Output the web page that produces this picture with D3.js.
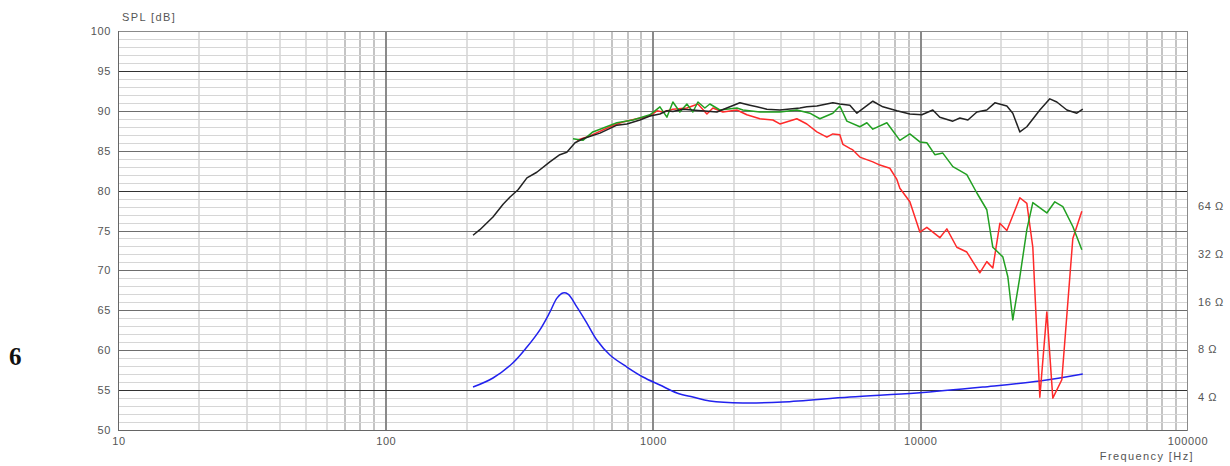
<!DOCTYPE html>
<html>
<head>
<meta charset="utf-8">
<script src="https://cdn.jsdelivr.net/npm/d3@7"></script>
<style>
  body { margin: 0; background: #fff; }
  text { font-family: "Liberation Sans", Arial, sans-serif; fill: #555; }
</style>
</head>
<body>
<svg id="chart" width="1230" height="466"></svg>
<script>
// tick labels
const dbTicks = [50, 55, 60, 65, 70, 75, 80, 85, 90, 95, 100];
const freqTicks = [10, 100, 1000, 10000, 100000];
const ohmTicks = [4, 8, 16, 32, 64];

// SPL curves, [Hz, dB]
const blackSpl = [
  [213, 74.4], [226, 75.1], [253, 76.7], [276, 78.3], [293, 79.2], [314, 80.1],
  [339, 81.6], [369, 82.3], [413, 83.6], [450, 84.5], [478, 84.8], [513, 86.0],
  [549, 86.5], [636, 87.2], [736, 88.2], [802, 88.35], [897, 88.85], [978, 89.35],
  [1066, 89.6], [1132, 90.0], [1192, 89.9], [1299, 90.2], [1741, 89.85], [2123, 91.0],
  [2314, 90.7], [2458, 90.5], [2679, 90.2], [2997, 90.1], [3559, 90.35], [3780, 90.5],
  [4121, 90.6], [4729, 91.0], [5023, 90.85], [5476, 90.7], [5818, 89.7], [6675, 91.2],
  [7278, 90.5], [8210, 90.0], [9183, 89.6], [10180, 89.5], [11190, 90.1], [11890, 89.2],
  [13300, 88.7], [14130, 89.1], [15140, 88.85], [16360, 89.85], [17820, 90.1], [19100, 91.0],
  [21180, 90.6], [22290, 89.7], [23690, 87.35], [25160, 88.0], [28140, 90.1], [30670, 91.5],
  [32580, 91.1], [35520, 90.1], [38700, 89.7], [40740, 90.2]
];

const greenSpl = [
  [504, 86.5], [549, 86.3], [598, 87.35], [736, 88.5], [845, 88.85], [978, 89.5],
  [1066, 90.5], [1132, 89.2], [1192, 91.1], [1266, 89.85], [1345, 90.85], [1416, 89.85],
  [1479, 91.1], [1570, 90.35], [1639, 90.85], [1787, 90.1], [2069, 90.35], [2179, 90.1],
  [2523, 89.85], [2997, 89.85], [3468, 90.1], [3879, 89.7], [4229, 89.0], [4729, 89.7],
  [5023, 90.6], [5337, 88.7], [5970, 88.0], [6341, 88.5], [6675, 87.7], [7533, 88.5],
  [8425, 86.3], [9183, 87.1], [10010, 86.1], [10630, 86.0], [11390, 84.5], [12200, 84.7],
  [13300, 83.0], [15000, 82.0], [16360, 79.7], [17820, 77.6], [18770, 72.9], [20460, 71.7],
  [21360, 69.2], [22290, 63.8], [23690, 69.2], [25160, 75.1], [26490, 78.5], [29890, 77.2],
  [32020, 78.6], [34310, 78.0], [37390, 75.5], [40410, 72.6]
];

const redSpl = [
  [521, 86.3], [583, 86.85], [693, 88.0], [775, 88.6], [874, 89.0], [978, 89.35],
  [1039, 90.0], [1094, 89.85], [1192, 90.2], [1345, 90.35], [1479, 90.85], [1598, 89.6],
  [1683, 90.35], [1834, 89.85], [2069, 90.1], [2254, 89.5], [2523, 89.0], [2821, 88.85],
  [2997, 88.35], [3468, 89.0], [3780, 88.35], [4121, 87.35], [4492, 86.7], [4729, 87.1],
  [5023, 87.0], [5156, 85.8], [5476, 85.3], [5619, 85.1], [5970, 84.2], [6675, 83.6],
  [7091, 83.2], [7730, 82.8], [8210, 81.4], [8425, 80.3], [9183, 78.6], [10010, 74.8],
  [10630, 75.4], [11890, 74.1], [12630, 75.2], [13760, 72.9], [15000, 72.3], [16780, 69.7],
  [17820, 71.1], [18770, 70.3], [19940, 75.9], [21180, 75.0], [23690, 79.1], [25160, 78.4],
  [26490, 72.9], [28140, 54.1], [29890, 64.8], [31470, 54.0], [34010, 56.3], [37390, 74.0],
  [40410, 77.4]
];

// impedance, [Hz, ohm]
const impedance = [
  [213, 4.62], [253, 5.27], [300, 6.55], [339, 8.26], [379, 10.6], [413, 13.7],
  [439, 16.8], [462, 18.1], [483, 17.8], [521, 14.8], [568, 11.7], [619, 9.15],
  [693, 7.36], [802, 6.18], [921, 5.35], [1066, 4.76], [1234, 4.24], [1416, 4.0],
  [1639, 3.78], [2179, 3.67], [3075, 3.72], [5476, 4.0], [9750, 4.24], [17220, 4.62],
  [28140, 5.04], [40740, 5.58]
];

const plotLeft = 118, plotRight = 1187, plotTop = 31, plotBottom = 430;

const x = d3.scaleLog().domain([10, 100000]).range([plotLeft, plotRight]);
const y = d3.scaleLinear().domain([50, 100]).range([plotBottom, plotTop]);
const yOhm = d3.scaleLog().domain([4, 64]).range([397, 206]);

const svg = d3.select("#chart");
const grid = svg.append("g").attr("shape-rendering", "crispEdges");

// vertical grid: minor lines per decade, then decade lines
const minorFreqs = [];
for (let d = 10; d < 100000; d *= 10) {
  for (let k = 2; k <= 9; k++) minorFreqs.push(d * k);
}
grid.selectAll(".vminor")
  .data(minorFreqs)
  .join("line")
  .attr("x1", (d) => Math.round(x(d)) + 0.5)
  .attr("x2", (d) => Math.round(x(d)) + 0.5)
  .attr("y1", plotTop)
  .attr("y2", plotBottom)
  .attr("stroke", (d) => (String(d)[0] >= "7" ? "#c4c4c4" : "#dedede"))
  .attr("stroke-width", 2);

// horizontal 1 dB lines
grid.selectAll(".hminor")
  .data(d3.range(51, 100).filter((v) => v % 5 !== 0))
  .join("line")
  .attr("x1", plotLeft)
  .attr("x2", plotRight)
  .attr("y1", (d) => Math.round(y(d)) + 0.5)
  .attr("y2", (d) => Math.round(y(d)) + 0.5)
  .attr("stroke", "#d6d6d6");

grid.selectAll(".vmajor")
  .data(freqTicks.slice(1, -1))
  .join("line")
  .attr("x1", (d) => Math.round(x(d)) + 0.5)
  .attr("x2", (d) => Math.round(x(d)) + 0.5)
  .attr("y1", plotTop)
  .attr("y2", plotBottom)
  .attr("stroke", "#8a8a8a")
  .attr("stroke-width", 2);

// 5 dB lines
grid.selectAll(".hmajor")
  .data(dbTicks.slice(1, -1))
  .join("line")
  .attr("x1", plotLeft)
  .attr("x2", plotRight)
  .attr("y1", (d) => Math.round(y(d)) + 0.5)
  .attr("y2", (d) => Math.round(y(d)) + 0.5)
  .attr("stroke", (d) => ([95, 80, 55].includes(d) ? "#333" : "#6e6e6e"));

// frame
grid.append("rect")
  .attr("x", plotLeft + 0.5)
  .attr("y", plotTop + 0.5)
  .attr("width", plotRight - plotLeft)
  .attr("height", plotBottom - plotTop)
  .attr("fill", "none")
  .attr("stroke", "#8a8a8a");
grid.append("line")
  .attr("x1", plotLeft + 0.5).attr("x2", plotLeft + 0.5)
  .attr("y1", plotTop).attr("y2", plotBottom + 1)
  .attr("stroke", "#666");
grid.append("line")
  .attr("x1", plotLeft).attr("x2", plotRight)
  .attr("y1", plotBottom + 0.5).attr("y2", plotBottom + 0.5)
  .attr("stroke", "#666");

// axes (labels only)
svg.append("g")
  .selectAll("text")
  .data(dbTicks)
  .join("text")
  .attr("x", 111)
  .attr("y", (d) => y(d) + 4)
  .attr("text-anchor", "end")
  .style("font-size", "11px")
  .style("letter-spacing", "0.6px")
  .text((d) => d);

svg.append("g")
  .selectAll("text")
  .data(freqTicks)
  .join("text")
  .attr("x", (d) => x(d) + 1)
  .attr("y", 445)
  .attr("text-anchor", "middle")
  .style("font-size", "11px")
  .style("letter-spacing", "0.6px")
  .text((d) => d);

svg.append("g")
  .selectAll("text")
  .data(ohmTicks)
  .join("text")
  .attr("x", 1198)
  .attr("y", (d) => yOhm(d) + 4)
  .style("font-size", "11px")
  .style("letter-spacing", "0.6px")
  .text((d) => d + " Ω");

svg.append("text")
  .attr("x", 122)
  .attr("y", 21)
  .style("font-size", "11px")
  .style("letter-spacing", "1.4px")
  .text("SPL [dB]");

svg.append("text")
  .attr("x", 1194)
  .attr("y", 460)
  .attr("text-anchor", "end")
  .style("font-size", "11px")
  .style("letter-spacing", "1.4px")
  .text("Frequency [Hz]");

svg.append("text")
  .attr("x", 9)
  .attr("y", 365)
  .style("font-family", "'Liberation Serif', 'DejaVu Serif', serif")
  .style("font-size", "25px")
  .style("font-weight", "bold")
  .style("fill", "#111")
  .text("6");

// curves
const splLine = d3.line().x((d) => x(d[0])).y((d) => y(d[1]));
const ohmLine = d3.line()
  .x((d) => x(d[0]))
  .y((d) => yOhm(d[1]))
  .curve(d3.curveCatmullRom.alpha(0.5));

const curves = svg.append("g").attr("fill", "none").attr("stroke-width", 1.5).attr("stroke-linejoin", "round");
curves.append("path").datum(impedance).attr("d", ohmLine).attr("stroke", "#2222ee");
curves.append("path").datum(redSpl).attr("d", splLine).attr("stroke", "#ff2a2a");
curves.append("path").datum(greenSpl).attr("d", splLine).attr("stroke", "#22a022");
curves.append("path").datum(blackSpl).attr("d", splLine).attr("stroke", "#222");
</script>
</body>
</html>
